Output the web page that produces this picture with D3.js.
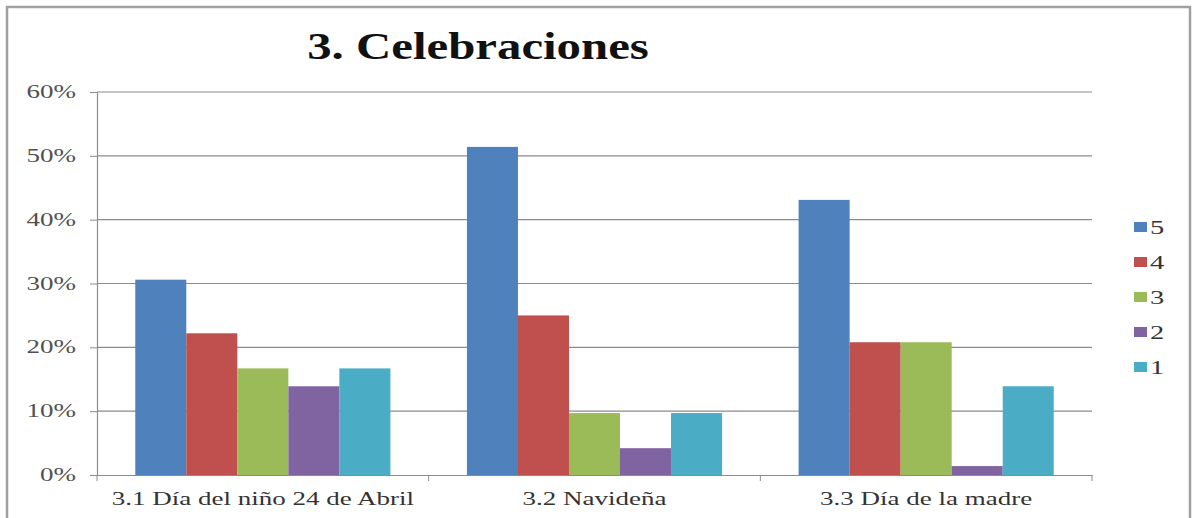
<!DOCTYPE html>
<html>
<head>
<meta charset="utf-8">
<script src="https://cdn.jsdelivr.net/npm/d3@7"></script>
<style>
  body { margin: 0; background: #fff; }
</style>
</head>
<body>
<div id="chart"></div>
<script>
// categories and series (share of 72 answers, in %)
var categories = ['3.1 Día del niño 24 de Abril', '3.2 Navideña', '3.3 Día de la madre'];
var seriesNames = ['5', '4', '3', '2', '1'];
var seriesColors = ['#4F81BD', '#C0504D', '#9BBB59', '#8064A2', '#4BACC6'];
var values5 = [30.6, 51.4, 43.1];
var values4 = [22.2, 25.0, 20.8];
var values3 = [16.7, 9.7, 20.8];
var values2 = [13.9, 4.2, 1.4];
var values1 = [16.7, 9.7, 13.9];
var yTicks = [0, 10, 20, 30, 40, 50, 60];

var seriesValues = [values5, values4, values3, values2, values1];

var width = 1193, height = 518;
var plot = {left: 97, right: 1092, top: 92, bottom: 475};
var serif = "'Liberation Serif', 'Times New Roman', serif";
// the picture is stretched sideways
var sxSmall = 1.5, sxTitle = 1.285;

var svg = d3.select('#chart').append('svg')
	.attr('width', width)
	.attr('height', height);

// outer frame
svg.append('rect')
	.attr('x', 7).attr('y', 7)
	.attr('width', 1183).attr('height', 520)
	.attr('fill', '#fff')
	.attr('stroke', '#a0a0a0')
	.attr('stroke-width', 2.5);

var x0 = d3.scaleBand().domain(categories).range([plot.left, plot.right]).paddingInner(0).paddingOuter(0);
var x1 = d3.scaleBand().domain(seriesNames).range([0, x0.bandwidth()]).paddingInner(0).paddingOuter(0.75);
var y = d3.scaleLinear().domain([0, 60]).range([plot.bottom, plot.top]);

// stretched text helper
function label(g, x, yy, anchor, size, fill, weight, txt, sx) {
	return g.append('text')
		.attr('transform', 'translate(' + x + ',' + yy + ') scale(' + sx + ',1)')
		.attr('text-anchor', anchor)
		.style('font-family', serif)
		.style('font-size', size + 'px')
		.style('font-weight', weight)
		.attr('fill', fill)
		.text(txt);
}

// gridlines
svg.append('g').selectAll('line')
	.data(yTicks.slice(1))
	.join('line')
	.attr('x1', plot.left).attr('x2', plot.right)
	.attr('y1', function(d){ return y(d); })
	.attr('y2', function(d){ return y(d); })
	.attr('stroke', '#8c8c8c')
	.attr('stroke-width', 1.2);

// y axis
var yAxis = svg.append('g')
	.attr('transform', 'translate(' + plot.left + ',0)')
	.call(d3.axisLeft(y).tickValues(yTicks).tickSize(7).tickFormat(''));
yAxis.select('.domain').attr('stroke', '#8c8c8c').attr('stroke-width', 1.2);
yAxis.selectAll('.tick line').attr('stroke', '#8c8c8c');
var yLab = svg.append('g');
yTicks.forEach(function(t){
	label(yLab, 76, y(t) + 6, 'end', 18, '#505050', 'normal', t + '%', sxSmall);
});

// bars
var groups = svg.append('g').selectAll('g')
	.data(seriesNames)
	.join('g')
	.attr('fill', function(d, i){ return seriesColors[i]; });

groups.selectAll('rect')
	.data(function(s, i){ return categories.map(function(c, j){ return {cat: c, s: s, v: seriesValues[i][j]}; }); })
	.join('rect')
	.attr('x', function(d){ return x0(d.cat) + x1(d.s); })
	.attr('width', x1.bandwidth())
	.attr('y', function(d){ return y(d.v); })
	.attr('height', function(d){ return plot.bottom - y(d.v); });

// x axis
var xAxis = svg.append('g')
	.attr('transform', 'translate(0,' + plot.bottom + ')')
	.call(d3.axisBottom(x0).tickSize(0).tickFormat(''));
xAxis.select('.domain').attr('stroke', '#8c8c8c').attr('stroke-width', 1.2);
var xLab = svg.append('g');
categories.forEach(function(c){
	label(xLab, x0(c) + x0.bandwidth() / 2, 505, 'middle', 18, '#333', 'normal', c, sxSmall);
});

// category boundary ticks
var bounds = [plot.left].concat(categories.map(function(c){ return x0(c) + x0.bandwidth(); }));
svg.append('g').selectAll('line')
	.data(bounds)
	.join('line')
	.attr('x1', function(d){ return d; }).attr('x2', function(d){ return d; })
	.attr('y1', plot.bottom).attr('y2', plot.bottom + 6)
	.attr('stroke', '#8c8c8c');

// title
label(svg, 478, 59, 'middle', 38, '#111', 'bold', '3. Celebraciones', sxTitle);

// legend
var legend = svg.append('g').selectAll('g')
	.data(seriesNames)
	.join('g')
	.attr('transform', function(d, i){ return 'translate(1134,' + (227 + i * 35) + ')'; });
legend.append('rect')
	.attr('x', 0).attr('y', -5)
	.attr('width', 13).attr('height', 10)
	.attr('fill', function(d, i){ return seriesColors[i]; });
legend.each(function(d){
	label(d3.select(this), 16, 7, 'start', 19, '#333', 'normal', d, sxSmall);
});
</script>
</body>
</html>
